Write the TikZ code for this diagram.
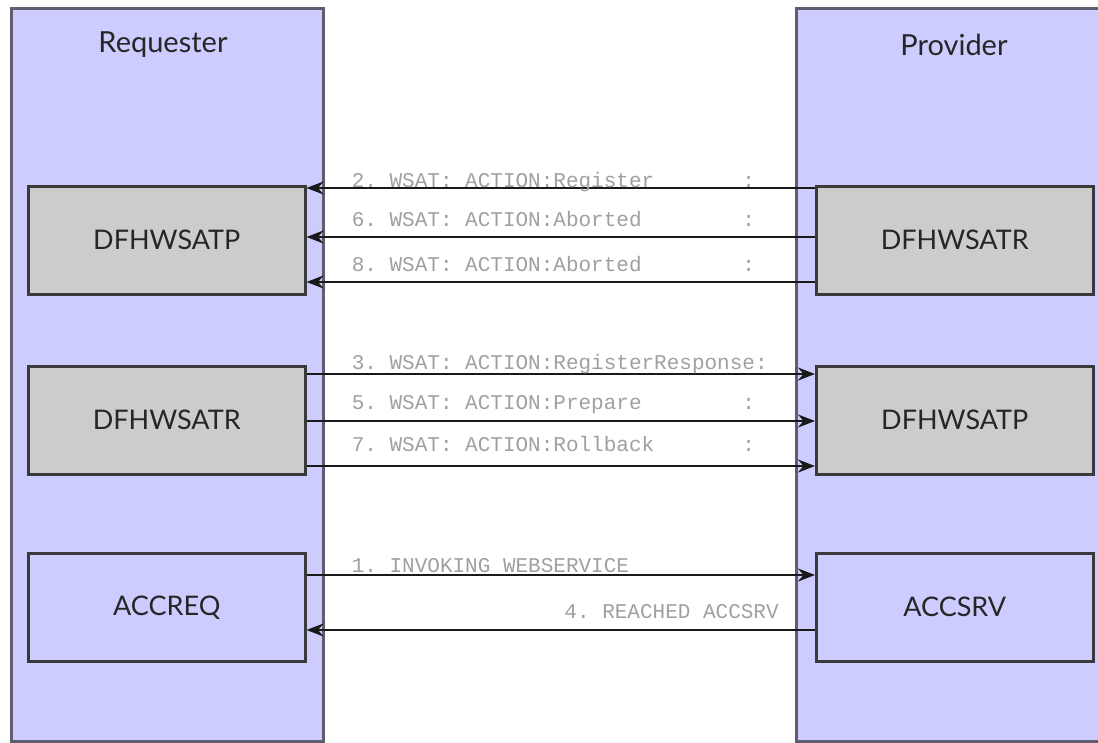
\documentclass[tikz,border=0pt]{standalone}
\usepackage{fontspec}
\setmainfont{Lato}
\newfontfamily\monof{Liberation Mono}
\usetikzlibrary{arrows.meta}
\definecolor{colfill}{HTML}{CCCCFF}
\definecolor{colline}{HTML}{5E5E6E}
\definecolor{boxgray}{HTML}{CCCCCC}
\definecolor{boxline}{HTML}{3A3A3A}
\definecolor{labgray}{HTML}{A0A0A0}
\tikzset{
  column/.style={draw=colline, fill=colfill, line width=2.8pt, minimum width=312pt, minimum height=733pt, inner sep=0pt},
  colhead/.style={font=\fontsize{29}{34}\selectfont, text=black!85},
  graybox/.style={draw=boxline, fill=boxgray, line width=2.5pt, minimum width=277pt, minimum height=108pt, inner sep=0pt, font=\fontsize{27}{32}\selectfont, text=black!85},
  bluebox/.style={graybox, fill=colfill},
  msg/.style={draw=black!90, line width=2.6pt, -{Stealth[length=17pt,width=13pt]}},
  lab/.style={font=\monof\fontsize{21}{24}\selectfont, text=labgray, inner sep=0pt},
}
\begin{document}
\begin{tikzpicture}[x=1pt,y=-1pt]
\useasboundingbox[fill=white] (0,0) rectangle (1098,742);
% columns
\node[column, anchor=north west] (req) at (10,7) {};
\node[column, anchor=north west, minimum width=320pt] (prov) at (795,7) {};
\node[colhead] (reqt) at (163,45) {Requester};
\node[colhead] (provt) at (954,45) {Provider};
% inner boxes
\node[graybox, anchor=north west] (lp) at (27,185) {DFHWSATP};
\node[graybox, anchor=north west] (lr) at (27,365) {DFHWSATR};
\node[bluebox, anchor=north west] (lq) at (27,552) {ACCREQ};
\node[graybox, anchor=north west] (rr) at (815,185) {DFHWSATR};
\node[graybox, anchor=north west] (rp) at (815,365) {DFHWSATP};
\node[bluebox, anchor=north west] (rs) at (815,552) {ACCSRV};
% provider -> requester (WSAT)
\draw[msg] ([yshift=-3pt]rr.north west) -- ([yshift=-3pt]lp.north east)
  node[lab, pos=1, anchor=base west, xshift=44pt, yshift=1pt] (l2) {2.\ WSAT:\ ACTION:Register\ \ \ \ \ \ \ :};
\draw[msg] ([yshift=-52pt]rr.north west) -- ([yshift=-52pt]lp.north east)
  node[lab, pos=1, anchor=base west, xshift=44pt, yshift=11pt] (l6) {6.\ WSAT:\ ACTION:Aborted\ \ \ \ \ \ \ \ :};
\draw[msg] ([yshift=-97pt]rr.north west) -- ([yshift=-97pt]lp.north east)
  node[lab, pos=1, anchor=base west, xshift=44pt, yshift=11pt] (l8) {8.\ WSAT:\ ACTION:Aborted\ \ \ \ \ \ \ \ :};
% requester -> provider (WSAT)
\draw[msg] ([yshift=-9pt]lr.north east) -- ([yshift=-9pt]rp.north west)
  node[lab, pos=0, anchor=base west, xshift=44pt, yshift=5pt] (l3) {3.\ WSAT:\ ACTION:RegisterResponse:};
\draw[msg] ([yshift=-56pt]lr.north east) -- ([yshift=-56pt]rp.north west)
  node[lab, pos=0, anchor=base west, xshift=44pt, yshift=12pt] (l5) {5.\ WSAT:\ ACTION:Prepare\ \ \ \ \ \ \ \ :};
\draw[msg] ([yshift=-101pt]lr.north east) -- ([yshift=-101pt]rp.north west)
  node[lab, pos=0, anchor=base west, xshift=44pt, yshift=15pt] (l7) {7.\ WSAT:\ ACTION:Rollback\ \ \ \ \ \ \ :};
% application messages
\draw[msg] ([yshift=-23pt]lq.north east) -- ([yshift=-23pt]rs.north west)
  node[lab, pos=0, anchor=base west, xshift=44pt, yshift=3pt] (l1) {1.\ INVOKING\ WEBSERVICE};
\draw[msg] ([yshift=-78pt]rs.north west) -- ([yshift=-78pt]lq.north east)
  node[lab, pos=0, anchor=base east, xshift=-35pt, yshift=12pt] (l4) {4.\ REACHED\ ACCSRV};
\end{tikzpicture}
\end{document}
